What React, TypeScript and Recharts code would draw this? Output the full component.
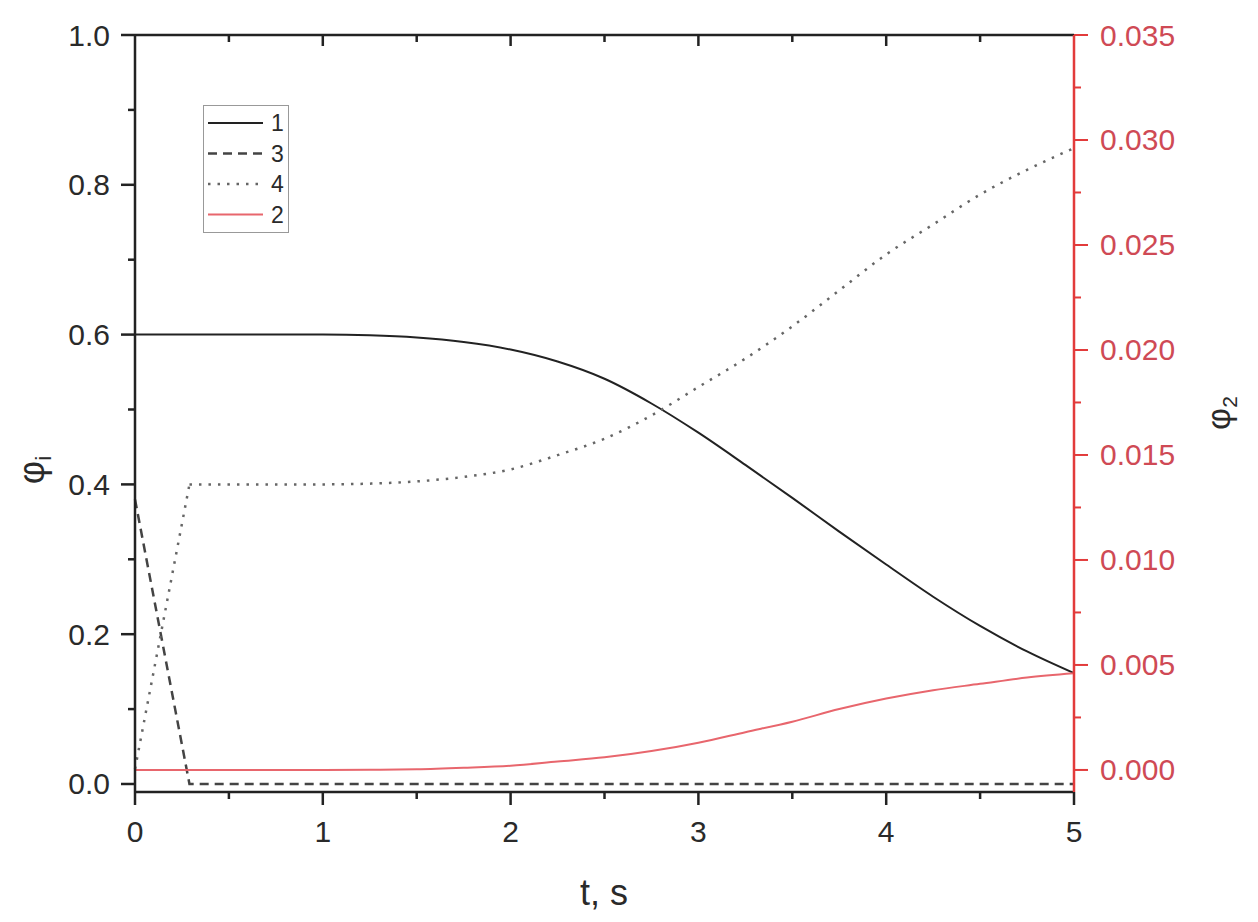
import { LineChart, Line, XAxis, YAxis } from 'recharts';

// time grid, s
const tSmooth = [0, 0.25, 0.5, 0.75, 1, 1.25, 1.5, 1.75, 2, 2.25, 2.5, 2.75, 3, 3.25, 3.5, 3.75, 4, 4.25, 4.5, 4.75, 5];

// curve 1 (solid)
const phi1 = [0.6, 0.6, 0.6, 0.6, 0.6, 0.599, 0.596, 0.59, 0.58, 0.564, 0.541, 0.508, 0.469, 0.426, 0.382, 0.337, 0.293, 0.25, 0.211, 0.177, 0.148];

// curve 3 (dashed)
const t3 = [0, 0.29, 0.5, 1, 2, 3, 4, 5];
const phi3 = [0.38, 0, 0, 0, 0, 0, 0, 0];

// curve 4 (dotted): ramp then smooth part
const t4Ramp = [0, 0.29];
const phi4Ramp = [0.02, 0.4];
const t4 = [0.29, 0.5, 0.75, 1, 1.25, 1.5, 1.75, 2, 2.25, 2.5, 2.75, 3, 3.25, 3.5, 3.75, 4, 4.25, 4.5, 4.75, 5];
const phi4 = [0.4, 0.4, 0.4, 0.4, 0.401, 0.404, 0.41, 0.42, 0.439, 0.461, 0.492, 0.53, 0.568, 0.611, 0.659, 0.707, 0.747, 0.787, 0.82, 0.849];

// curve 2 (red, right axis)
const phi2 = [0, 0, 0, 0, 0, 0.00001, 0.00003, 0.0001, 0.0002, 0.0004, 0.0006, 0.0009, 0.0013, 0.0018, 0.0023, 0.0029, 0.0034, 0.0038, 0.0041, 0.0044, 0.0046];

const xTicks = [0, 0.5, 1, 1.5, 2, 2.5, 3, 3.5, 4, 4.5, 5];
const leftTicks = [0, 0.1, 0.2, 0.3, 0.4, 0.5, 0.6, 0.7, 0.8, 0.9, 1.0];
const rightTicks = [0, 0.0025, 0.005, 0.0075, 0.01, 0.0125, 0.015, 0.0175, 0.02, 0.0225, 0.025, 0.0275, 0.03, 0.0325, 0.035];

const legendItems = [
  { label: '1', color: '#222', dash: undefined, width: 2 },
  { label: '3', color: '#444', dash: '9 6', width: 2.5 },
  { label: '4', color: '#666', dash: '2.5 7', width: 2.5 },
  { label: '2', color: '#e8666d', dash: undefined, width: 2 },
];

const zip = (ts: number[], vs: number[]) => ts.map((t, i) => ({ t, v: vs[i] }));

const font = '"Liberation Sans", Arial, sans-serif';
const RED_AXIS = '#e23b3b';
const RED_TEXT = '#cf4a55';
const PLOT_TOP = 35;

const isMult = (v: number, step: number) => Math.abs(v / step - Math.round(v / step)) < 1e-6;

function LeftTick({ x, y, payload }: any) {
  const major = isMult(payload.value, 0.2);
  const len = major ? 14 : 7;
  return (
    <g>
      <line x1={x} x2={x - len} y1={y} y2={y} stroke="#222" strokeWidth={2.5} />
      {major && (
        <text x={x - 25} y={y} textAnchor="end" dominantBaseline="central" fontSize={30} fontFamily={font} fill="#2a2a2a">
          {payload.value.toFixed(1)}
        </text>
      )}
    </g>
  );
}

function RightTick({ x, y, payload }: any) {
  const major = isMult(payload.value, 0.005);
  const len = major ? 14 : 7;
  return (
    <g>
      <line x1={x} x2={x + len} y1={y} y2={y} stroke={RED_AXIS} strokeWidth={2} />
      {major && (
        <text x={x + 26} y={y} textAnchor="start" dominantBaseline="central" fontSize={30} fontFamily={font} fill={RED_TEXT}>
          {payload.value.toFixed(3)}
        </text>
      )}
    </g>
  );
}

// bottom ticks, plus the inward ticks of the top frame line
function BottomTick({ x, y, payload }: any) {
  const major = isMult(payload.value, 1);
  const len = major ? 13 : 7;
  const edge = payload.value === 0 || payload.value === 5;
  return (
    <g>
      <line x1={x} x2={x} y1={y} y2={y + len} stroke="#222" strokeWidth={2.5} />
      {!edge && <line x1={x} x2={x} y1={PLOT_TOP} y2={PLOT_TOP + (major ? 11 : 7)} stroke="#222" strokeWidth={2.5} />}
      {major && (
        <text x={x} y={y + 50} textAnchor="middle" fontSize={30} fontFamily={font} fill="#2a2a2a">
          {payload.value}
        </text>
      )}
    </g>
  );
}

function ChartLegend() {
  return (
    <div
      style={{
        position: 'absolute',
        left: 203,
        top: 105,
        width: 84,
        height: 126,
        border: '1.5px solid #999',
        background: '#fff',
      }}
    >
      <svg width={84} height={126}>
        {legendItems.map((it, i) => {
          const y = 17 + i * 30.5;
          return (
            <g key={it.label}>
              <line x1={4} x2={59} y1={y} y2={y} stroke={it.color} strokeWidth={it.width} strokeDasharray={it.dash} />
              <text x={67} y={y} dominantBaseline="central" fontSize={23} fontFamily={font} fill="#2a2a2a">
                {it.label}
              </text>
            </g>
          );
        })}
      </svg>
    </div>
  );
}

export default function App() {
  return (
    <div style={{ position: 'absolute', left: 0, top: 0, width: 1258, height: 922, background: '#fff' }}>
      <LineChart width={1258} height={922} margin={{ top: 0, right: 0, bottom: 0, left: 0 }}>
        <XAxis
          type="number"
          dataKey="t"
          domain={[0, 5]}
          ticks={xTicks}
          interval={0}
          height={130}
          tickSize={0}
          tickMargin={0}
          tickLine={false}
          axisLine={{ stroke: '#222', strokeWidth: 2.5 }}
          tick={<BottomTick />}
          label={{
            content: () => (
              <text x={604} y={905} textAnchor="middle" fontSize={36} fontFamily={font} fill="#2a2a2a">
                t, s
              </text>
            ),
          }}
        />
        <XAxis
          xAxisId="top"
          orientation="top"
          type="number"
          dataKey="t"
          domain={[0, 5]}
          height={PLOT_TOP}
          tick={false}
          tickLine={false}
          axisLine={{ stroke: '#222', strokeWidth: 2.5 }}
        />
        <YAxis
          yAxisId="left"
          type="number"
          domain={[-0.0107, 1]}
          ticks={leftTicks}
          interval={0}
          width={135}
          tickSize={0}
          tickMargin={0}
          tickLine={false}
          axisLine={{ stroke: '#222', strokeWidth: 2.5 }}
          tick={<LeftTick />}
          label={{
            content: () => (
              <text
                x={44}
                y={470}
                textAnchor="middle"
                fontSize={36}
                fontFamily={font}
                fill="#2a2a2a"
                transform="rotate(-90 44 470)"
              >
                φ
                <tspan fontSize={22} dy={7}>
                  i
                </tspan>
              </text>
            ),
          }}
        />
        <YAxis
          yAxisId="right"
          orientation="right"
          type="number"
          domain={[-0.00105, 0.035]}
          ticks={rightTicks}
          interval={0}
          width={184}
          tickSize={0}
          tickMargin={0}
          tickLine={false}
          axisLine={{ stroke: RED_AXIS, strokeWidth: 2.5 }}
          tick={<RightTick />}
          label={{
            content: () => (
              <text
                x={1230}
                y={413}
                textAnchor="middle"
                fontSize={34}
                fontFamily={font}
                fill="#2a2a2a"
                transform="rotate(-90 1230 413)"
              >
                φ
                <tspan fontSize={21} dy={7}>
                  2
                </tspan>
              </text>
            ),
          }}
        />
        <Line
          yAxisId="left"
          data={zip(tSmooth, phi1)}
          dataKey="v"
          type="monotone"
          stroke="#222"
          strokeWidth={2}
          dot={false}
          isAnimationActive={false}
        />
        <Line
          yAxisId="left"
          data={zip(t3, phi3)}
          dataKey="v"
          type="linear"
          stroke="#444"
          strokeWidth={2.5}
          strokeDasharray="9 6"
          dot={false}
          isAnimationActive={false}
        />
        <Line
          yAxisId="left"
          data={zip(t4Ramp, phi4Ramp)}
          dataKey="v"
          type="linear"
          stroke="#666"
          strokeWidth={2.5}
          strokeDasharray="2.5 7"
          dot={false}
          isAnimationActive={false}
        />
        <Line
          yAxisId="left"
          data={zip(t4, phi4)}
          dataKey="v"
          type="monotone"
          stroke="#666"
          strokeWidth={2.5}
          strokeDasharray="2.5 7"
          dot={false}
          isAnimationActive={false}
        />
        <Line
          yAxisId="right"
          data={zip(tSmooth, phi2)}
          dataKey="v"
          type="monotone"
          stroke="#e8666d"
          strokeWidth={2}
          dot={false}
          isAnimationActive={false}
        />
      </LineChart>
      <ChartLegend />
    </div>
  );
}
